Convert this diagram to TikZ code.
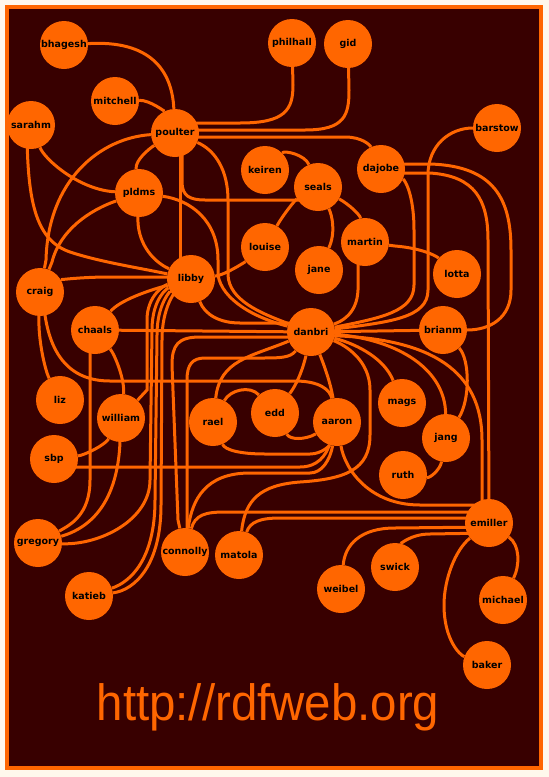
\documentclass[tikz,border=0pt]{standalone}
\usepackage{fontspec}
\usepackage{graphicx}
\usetikzlibrary{calc}
\newfontfamily\nodefont{DejaVu Sans}
\newfontfamily\urlfont{Liberation Sans}
\definecolor{bgdark}{RGB}{56,0,0}
\definecolor{org}{RGB}{255,102,0}
\definecolor{cream}{RGB}{255,248,236}
\pgfdeclarelayer{edgelayer}
\pgfsetlayers{edgelayer,main}
\tikzset{
  person/.style={circle, fill=org, minimum size=48pt, inner sep=0pt, text=black,
    font=\nodefont\bfseries\fontsize{9.5}{10}\selectfont},
  link/.style={draw=org, line width=3pt},
}
\begin{document}
\begin{tikzpicture}[x=1pt,y=-1pt]
\useasboundingbox (0,0) rectangle (549,777);
% nodes
\node[person] (bhagesh) at (64,45) {bhagesh};
\node[person] (philhall) at (292,43) {philhall};
\node[person] (gid) at (348,44) {gid};
\node[person] (mitchell) at (115,101) {mitchell};
\node[person] (sarahm) at (31,125) {sarahm};
\node[person] (poulter) at (175,133) {poulter};
\node[person] (barstow) at (497,128) {barstow};
\node[person] (keiren) at (265,170) {keiren};
\node[person] (seals) at (318,187) {seals};
\node[person] (dajobe) at (381,169) {dajobe};
\node[person] (pldms) at (139,193) {pldms};
\node[person] (louise) at (265,247) {louise};
\node[person] (martin) at (365,242) {martin};
\node[person] (jane) at (319,270) {jane};
\node[person] (lotta) at (457,274) {lotta};
\node[person] (libby) at (191,279) {libby};
\node[person] (craig) at (40,292) {craig};
\node[person] (chaals) at (95,330) {chaals};
\node[person] (danbri) at (311,332) {danbri};
\node[person] (brianm) at (443,330) {brianm};
\node[person] (liz) at (60,400) {liz};
\node[person] (mags) at (402,403) {mags};
\node[person] (william) at (121,418) {william};
\node[person] (edd) at (275,413) {edd};
\node[person] (rael) at (213,422) {rael};
\node[person] (aaron) at (337,422) {aaron};
\node[person] (jang) at (446,438) {jang};
\node[person] (sbp) at (54,459) {sbp};
\node[person] (ruth) at (403,475) {ruth};
\node[person] (emiller) at (489,523) {emiller};
\node[person] (gregory) at (38,543) {gregory};
\node[person] (connolly) at (185,552) {connolly};
\node[person] (matola) at (239,555) {matola};
\node[person] (swick) at (395,567) {swick};
\node[person] (weibel) at (341,589) {weibel};
\node[person] (michael) at (503,600) {michael};
\node[person] (katieb) at (89,596) {katieb};
\node[person] (baker) at (487,665) {baker};
\node[text=org, font=\urlfont\fontsize{51}{51}\selectfont, anchor=base, inner sep=0pt] (url) at (268,720) {\scalebox{0.93}[1]{http://rdfweb.org}};
\begin{pgfonlayer}{edgelayer}
\fill[cream] (0,0) rectangle (549,777);
\fill[org] (5,5) rectangle (543,770);
\fill[bgdark] (9,9) rectangle (539,766);
% top
\draw[link] (bhagesh) .. controls (150,40) and (172,70) .. (poulter);
\draw[link] (mitchell) .. controls (150,100) and (165,112) .. (poulter);
\draw[link] ($(poulter)+(0,-10)$) -- (240,123) .. controls (285,123) and (293,110) .. (293,85) -- (philhall);
\draw[link] ($(poulter)+(0,-3)$) -- (305,130) .. controls (345,130) and (349,115) .. (349,90) -- (gid);
\draw[link] ($(poulter)+(0,4)$) -- (345,137) .. controls (362,137) and (370,145) .. (dajobe);
\draw[link] (poulter) .. controls (150,148) and (135,160) .. (pldms);
\draw[link] (poulter) .. controls (100,138) and (48,180) .. (46,260) -- (craig);
\draw[link] ($(poulter)+(5,0)$) -- ($(libby)+(-11,0)$);
\draw[link] ($(poulter)+(7,0)$) -- (182,182) .. controls (182,196) and (190,200) .. (205,200) -- ($(seals)+(0,13)$);
\draw[link] (poulter) .. controls (215,150) and (228,170) .. (228,200) -- (228,275) .. controls (229,300) and (260,313) .. (danbri);
\draw[link] (sarahm) .. controls (45,160) and (80,190) .. (pldms);
\draw[link] ($(sarahm)+(-4,0)$) .. controls (27,200) and (35,240) .. (70,252) .. controls (100,262) and (140,268) .. (libby);
\draw[link] (pldms) .. controls (90,210) and (60,230) .. (52,262) -- (craig);
\draw[link] (pldms) .. controls (137,240) and (150,260) .. (libby);
\draw[link] (pldms) .. controls (190,200) and (218,220) .. (218,260) -- (218,275) .. controls (222,300) and (255,318) .. (danbri);
% seals cluster
\draw[link] (keiren) .. controls (285,150) and (305,155) .. (seals);
\draw[link] (seals) .. controls (295,200) and (283,215) .. (louise);
\draw[link] (seals) .. controls (332,215) and (336,232) .. (jane);
\draw[link] (seals) .. controls (350,205) and (360,215) .. (martin);
\draw[link] (martin) -- (395,246) .. controls (420,248) and (435,255) .. (lotta);
\draw[link] ($(martin)+(-7,0)$) -- (358,290) .. controls (357,315) and (340,322) .. (danbri);
\draw[link] (dajobe) .. controls (405,180) and (414,195) .. (414,230) -- (414,285) .. controls (414,312) and (380,318) .. (danbri);
\draw[link] (barstow) .. controls (450,128) and (428,145) .. (428,175) -- (428,290) .. controls (428,318) and (390,322) .. (danbri);
\draw[link] ($(dajobe)+(0,-5)$) -- (430,164) .. controls (495,166) and (511,200) .. (511,250) -- (511,290) .. controls (511,318) and (490,330) .. (brianm);
\draw[link] ($(dajobe)+(0,4)$) -- (430,173) .. controls (475,176) and (488,200) .. (488,240) -- (emiller);
% libby
\draw[link] (libby) .. controls (225,275) and (245,262) .. (louise);
\draw[link] (libby) .. controls (205,315) and (220,323) .. (240,323) -- ($(danbri)+(0,-9)$);
\draw[link] (libby) .. controls (150,290) and (120,300) .. (chaals);
\draw[link] (craig) .. controls (60,280) and (80,277) .. (110,277) -- ($(libby)+(0,-2)$);
\draw[link] (libby) .. controls (165,285) and (147,295) .. (147,320) -- (147,390) -- (william);
\draw[link] (libby) .. controls (168,288) and (152,298) .. (152,330) -- (150,480) .. controls (150,520) and (100,545) .. (gregory);
\draw[link] (libby) .. controls (172,290) and (157,302) .. (157,335) -- (155,500) .. controls (155,560) and (130,582) .. (katieb);
\draw[link] (libby) .. controls (176,292) and (162,306) .. (162,340) -- (161,505) .. controls (161,565) and (135,590) .. (katieb);
\draw[link] ($(danbri)+(0,5)$) -- (200,337) .. controls (178,337) and (172,345) .. (172,365) -- (178,520) -- (connolly);
\draw[link] (danbri) .. controls (290,358) and (280,358) .. (260,358) -- (205,358) .. controls (192,358) and (187,365) .. (187,380) -- ($(connolly)+(2,0)$);
% left / middle
\draw[link] (chaals) -- (danbri);
\draw[link] (chaals) .. controls (115,355) and (125,380) .. (william);
\draw[link] ($(chaals)+(-5,0)$) -- (90,480) .. controls (90,515) and (70,525) .. (gregory);
\draw[link] (craig) .. controls (38,340) and (45,370) .. (liz);
\draw[link] ($(craig)+(3,0)$) .. controls (45,355) and (70,381) .. (110,381) -- (295,381) .. controls (320,381) and (330,390) .. (aaron);
\draw[link] (william) .. controls (118,490) and (100,525) .. (gregory);
\draw[link] (sbp) .. controls (85,455) and (105,445) .. (william);
\draw[link] ($(sbp)+(0,8)$) -- (300,467) .. controls (318,467) and (326,455) .. (aaron);
\draw[link] (danbri) .. controls (250,357) and (220,360) .. (rael);
\draw[link] (danbri) .. controls (305,360) and (300,380) .. (edd);
\draw[link] (danbri) .. controls (322,360) and (330,380) .. (aaron);
\draw[link] (rael) .. controls (230,390) and (250,385) .. (edd);
\draw[link] (edd) .. controls (290,440) and (305,440) .. (aaron);
\draw[link] (rael) .. controls (225,450) and (240,454) .. (265,454) -- (310,454) .. controls (322,454) and (330,445) .. (aaron);
\draw[link] (connolly) .. controls (192,500) and (205,473) .. (250,473) -- (310,473) .. controls (322,473) and (330,460) .. (aaron);
\draw[link] (matola) .. controls (245,500) and (260,485) .. (300,482) .. controls (345,479) and (370,470) .. (370,435) -- (370,390) .. controls (370,360) and (345,345) .. (danbri);
% right / bottom
\draw[link] (aaron) .. controls (345,470) and (370,505) .. (420,505) -- ($(emiller)+(0,-18)$);
\draw[link] (connolly) .. controls (195,515) and (205,512) .. (225,512) -- ($(emiller)+(0,-11)$);
\draw[link] (matola) .. controls (250,522) and (260,518) .. (280,518) -- ($(emiller)+(0,-5)$);
\draw[link] (danbri) .. controls (360,345) and (385,360) .. (mags);
\draw[link] (danbri) .. controls (400,340) and (445,370) .. (jang);
\draw[link] ($(danbri)+(0,3)$) -- (340,336) .. controls (430,340) and (482,370) .. (482,440) -- ($(emiller)+(-7,0)$);
\draw[link] (danbri) -- (brianm);
\draw[link] (brianm) .. controls (470,360) and (470,400) .. (jang);
\draw[link] (jang) .. controls (440,470) and (430,478) .. (ruth);
\draw[link] (weibel) .. controls (345,545) and (360,528) .. (395,528) -- ($(emiller)+(0,4)$);
\draw[link] (swick) .. controls (400,545) and (410,534) .. (430,534) -- ($(emiller)+(0,10)$);
\draw[link] (emiller) .. controls (520,545) and (520,565) .. (michael);
\draw[link] (emiller) .. controls (455,550) and (444,580) .. (444,605) .. controls (444,640) and (460,655) .. (baker);
\end{pgfonlayer}
\end{tikzpicture}
\end{document}
